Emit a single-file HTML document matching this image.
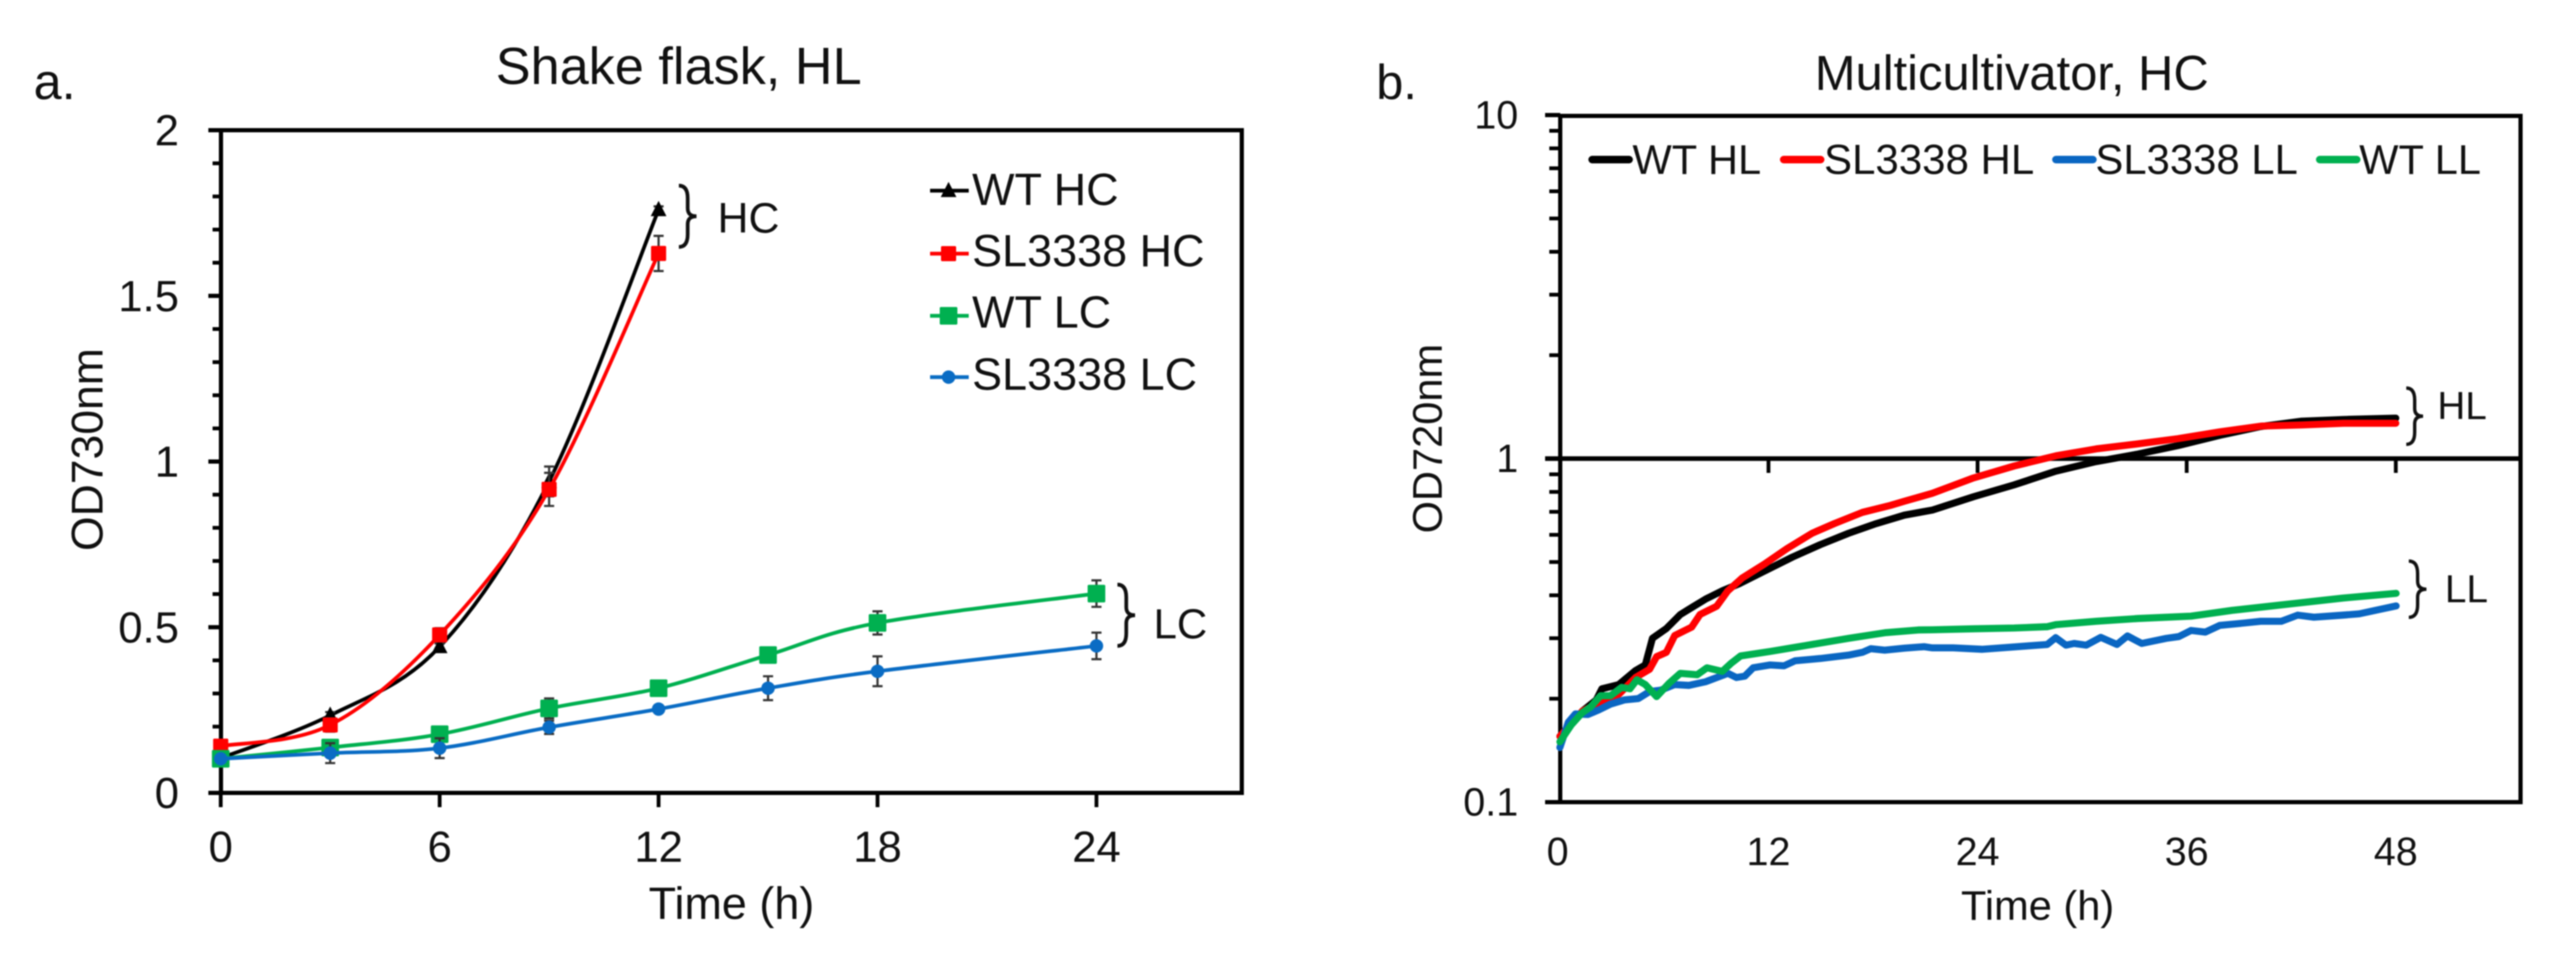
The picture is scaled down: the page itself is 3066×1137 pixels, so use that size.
<!DOCTYPE html>
<html lang="en">
<head>
<meta charset="utf-8">
<title>Growth curves: shake flask and multicultivator</title>
<style>
  html, body { margin: 0; padding: 0; background: #fff; }
  body { width: 3066px; height: 1137px; overflow: hidden; }
  svg { display: block; filter: blur(0.9px); }
  text { font-family: "Liberation Sans", Arial, sans-serif; fill: #111; }
</style>
</head>
<body>
<svg id="figure" xmlns="http://www.w3.org/2000/svg" width="3066" height="1137" viewBox="0 0 3066 1137">
  <rect x="0" y="0" width="3066" height="1137" fill="#fff"/>

  <g id="panel-a">
    <text x="40" y="118" font-size="60">a.</text>
    <text x="590" y="100" font-size="62.2">Shake flask, HL</text>
    <rect x="263" y="155" width="1215" height="789" fill="none" stroke="#000" stroke-width="5"/>
    <text x="122" y="656" font-size="53" transform="rotate(-90 122 656)">OD730nm</text>
    <text x="772" y="1094" font-size="53.5">Time (h)</text>
    <text x="854" y="277" font-size="51">HC</text>
    <text x="1373" y="760" font-size="50">LC</text>
    <text x="1157" y="244" font-size="53.5">WT HC</text>
    <text x="1157" y="317" font-size="53.5">SL3338 HC</text>
    <text x="1157" y="390" font-size="53.5">WT LC</text>
    <text x="1157" y="464" font-size="53.5">SL3338 LC</text>
  </g>

  <g id="panel-b">
    <text x="1638" y="118" font-size="58">b.</text>
    <text x="2160" y="107" font-size="58.2">Multicultivator, HC</text>
    <rect x="1857" y="138" width="1143" height="817" fill="none" stroke="#000" stroke-width="5"/>
    <text x="1716" y="635" font-size="49.5" transform="rotate(-90 1716 635)">OD720nm</text>
    <text x="2334" y="1095" font-size="49.5">Time (h)</text>
    <text x="2901" y="499" font-size="46">HL</text>
    <text x="2910" y="717" font-size="46">LL</text>
    <text x="1943" y="207" font-size="49.5">WT HL</text>
    <text x="2171" y="207" font-size="50">SL3338 HL</text>
    <text x="2494" y="207" font-size="49.8">SL3338 LL</text>
    <text x="2808" y="207" font-size="49.5">WT LL</text>
  </g>
</svg>

<script>
// ---------- Panel a: data ----------
const aHoursHC = [0, 3, 6, 9, 12];
const aHoursLC = [0, 3, 6, 9, 12, 15, 18, 24];
const aWtHC = [0.105, 0.234, 0.441, 0.94, 1.76];
const aSlHC = [0.141, 0.205, 0.477, 0.916, 1.628];
const aWtLC = [0.103, 0.137, 0.177, 0.255, 0.316, 0.416, 0.513, 0.6015];
const aSlLC = [0.103, 0.12, 0.135, 0.198, 0.253, 0.316, 0.367, 0.4436];
const aWtHCErr = [0.005, 0.01, 0.01, 0.045, 0.01];
const aSlHCErr = [0.005, 0.02, 0.02, 0.05, 0.053];
const aWtLCErr = [0.01, 0.01, 0.02, 0.03, 0.01, 0.015, 0.035, 0.04];
const aSlLCErr = [0.01, 0.03, 0.03, 0.02, 0.01, 0.036, 0.045, 0.04];
const aYMajorTicks = [0, 0.5, 1, 1.5, 2];
const aYMajorLabels = ['0', '0.5', '1', '1.5', '2'];
const aYMinorTicks = [0.1, 0.2, 0.3, 0.4, 0.6, 0.7, 0.8, 0.9, 1.1, 1.2, 1.3, 1.4, 1.6, 1.7, 1.8, 1.9];
const aXTicks = [0, 6, 12, 18, 24];
const aXLabels = ['0', '6', '12', '18', '24'];

// ---------- Panel b: data ----------
const bHoursWtHL = [0.03, 1.32, 2.12, 2.44, 3.41, 4.37, 4.93, 5.34, 6.14, 6.94, 7.59, 8.39, 9.35, 10.32, 11.76, 13.37, 14.98, 16.59, 18.19, 19.8, 21.41, 23.77, 26.1, 28.5, 30.8, 33.2, 35.5, 37.9, 40.25, 42.6, 45, 48];
const bWtHL = [0.1554, 0.184, 0.1984, 0.2138, 0.2199, 0.2415, 0.2508, 0.2998, 0.3201, 0.3516, 0.3684, 0.3899, 0.4124, 0.4322, 0.4704, 0.5166, 0.562, 0.6061, 0.647, 0.6846, 0.7085, 0.7745, 0.8388, 0.9195, 0.98, 1.031, 1.091, 1.169, 1.24, 1.285, 1.3, 1.312];
const bHoursSlHL = [0.03, 1.32, 2.12, 2.44, 3.41, 4.37, 5.18, 5.58, 6.14, 6.62, 7.59, 8.07, 9.03, 9.67, 10.48, 11.76, 13.05, 14.5, 15.78, 17.39, 19, 19.8, 21.4, 23.77, 26.1, 28.5, 30.8, 33.2, 35.5, 37.9, 40.25, 42.6, 45, 48];
const bSlHL = [0.1554, 0.184, 0.1925, 0.1965, 0.2059, 0.2305, 0.2438, 0.2652, 0.2729, 0.3055, 0.3232, 0.3516, 0.3719, 0.4124, 0.4487, 0.4928, 0.5466, 0.6061, 0.647, 0.6975, 0.7309, 0.7516, 0.7925, 0.8786, 0.9517, 1.019, 1.067, 1.104, 1.143, 1.196, 1.243, 1.253, 1.267, 1.267];
const bHoursSlLL = [0.03, 0.51, 0.92, 1.64, 2.28, 2.93, 3.73, 4.53, 5.18, 5.82, 6.62, 7.43, 8.39, 9.03, 9.67, 10.16, 10.64, 11.12, 12.09, 12.89, 13.53, 14.98, 16.59, 17.39, 17.87, 18.67, 19.8, 20.93, 21.41, 22.6, 24.24, 26.12, 28, 28.48, 29.07, 29.54, 30.24, 31.07, 32, 32.6, 33.42, 34.83, 35.54, 36.25, 37.07, 37.9, 39.3, 40.25, 41.43, 42.37, 43.3, 44.96, 45.9, 48.02];
const bSlLL = [0.1442, 0.1707, 0.1806, 0.1799, 0.1858, 0.1929, 0.1984, 0.2002, 0.2099, 0.2118, 0.2199, 0.2187, 0.2241, 0.2305, 0.2371, 0.2305, 0.2327, 0.2461, 0.2508, 0.2494, 0.258, 0.2619, 0.2679, 0.2729, 0.2797, 0.277, 0.2807, 0.2834, 0.2812, 0.2812, 0.2786, 0.2831, 0.2877, 0.3011, 0.2864, 0.2897, 0.2864, 0.3018, 0.2877, 0.3046, 0.2897, 0.2998, 0.3032, 0.316, 0.3125, 0.3269, 0.3322, 0.3361, 0.3361, 0.3502, 0.3454, 0.3502, 0.3533, 0.3725];
const bHoursWtLL = [0.03, 0.67, 1.32, 1.8, 2.36, 2.93, 3.57, 4.05, 4.45, 4.93, 5.58, 6.3, 6.94, 7.91, 8.47, 9.35, 9.84, 10.4, 12.09, 14.18, 16.59, 18.67, 20.6, 21.4, 23.77, 26.1, 28, 28.48, 30.8, 33.2, 36.25, 38.6, 41.43, 44.96, 48.02];
const bWtLL = [0.1498, 0.1675, 0.1823, 0.1893, 0.204, 0.204, 0.2158, 0.2138, 0.2271, 0.2199, 0.2029, 0.222, 0.2371, 0.2349, 0.2461, 0.2402, 0.2532, 0.2664, 0.2745, 0.286, 0.2998, 0.3112, 0.3171, 0.3175, 0.3196, 0.3212, 0.3241, 0.3285, 0.3361, 0.3424, 0.3479, 0.3616, 0.375, 0.3927, 0.4052];
const bYMajorTicks = [10, 1, 0.1];
const bYMajorLabels = ['10', '1', '0.1'];
const bYMinorTicks = [9, 8, 7, 6, 5, 4, 3, 2, 0.9, 0.8, 0.7, 0.6, 0.5, 0.4, 0.3, 0.2];
const bXTicks = [12, 24, 36, 48];
const bXLabelValues = [0, 12, 24, 36, 48];
const bXLabels = ['0', '12', '24', '36', '48'];

// ---------- Axis functions ----------
function xA(t) { return 262.7 + t * 43.43; }
function yA(v) { return 944 - v * 394.5; }
function xB(t) { return 1856 + t * 20.74; }
function yB(v) { return 546 - Math.log10(v) * 409; }

const NS = 'http://www.w3.org/2000/svg';
const panelA = document.getElementById('panel-a');
const panelB = document.getElementById('panel-b');

function add(parent, tag, attrs, content) {
  const node = document.createElementNS(NS, tag);
  for (const k in attrs) node.setAttribute(k, attrs[k]);
  if (content !== undefined) node.textContent = content;
  parent.appendChild(node);
  return node;
}

function smoothPath(xs, ys) {
  let d = 'M' + xs[0] + ' ' + ys[0];
  for (let i = 0; i < xs.length - 1; i++) {
    const p0 = Math.max(i - 1, 0), p3 = Math.min(i + 2, xs.length - 1);
    const c1x = xs[i] + (xs[i + 1] - xs[p0]) / 6, c1y = ys[i] + (ys[i + 1] - ys[p0]) / 6;
    const c2x = xs[i + 1] - (xs[p3] - xs[i]) / 6, c2y = ys[i + 1] - (ys[p3] - ys[i]) / 6;
    d += ' C' + c1x + ' ' + c1y + ' ' + c2x + ' ' + c2y + ' ' + xs[i + 1] + ' ' + ys[i + 1];
  }
  return d;
}

function bracePath(x, top, bottom, w) {
  const mid = (top + bottom) / 2, sx = x + w * 0.5, c = w * 0.45;
  return 'M' + x + ' ' + top + ' Q' + sx + ' ' + top + ' ' + sx + ' ' + (top + c * 1.6) +
    ' L' + sx + ' ' + (mid - c) + ' Q' + sx + ' ' + mid + ' ' + (x + w) + ' ' + mid +
    ' Q' + sx + ' ' + mid + ' ' + sx + ' ' + (mid + c) +
    ' L' + sx + ' ' + (bottom - c * 1.6) + ' Q' + sx + ' ' + bottom + ' ' + x + ' ' + bottom;
}

function marker(parent, kind, cx, cy, color, size) {
  if (kind === 'triangle') {
    return add(parent, 'polygon', { points: cx + ',' + (cy - size * 0.62) + ' ' + (cx + size * 0.55) + ',' + (cy + size * 0.45) + ' ' + (cx - size * 0.55) + ',' + (cy + size * 0.45), fill: color });
  }
  if (kind === 'circle') {
    return add(parent, 'circle', { cx: cx, cy: cy, r: size / 2, fill: color });
  }
  return add(parent, 'rect', { x: cx - size / 2, y: cy - size / 2, width: size, height: size, rx: 1.5, fill: color });
}

// ---------- Panel a: axes ----------
aYMajorTicks.forEach(function (v, i) {
  const tick = add(panelA, 'line', { x1: 248, x2: 263, y1: yA(v), y2: yA(v), stroke: '#000', 'stroke-width': 5 });
  
  
  const label = add(panelA, 'text', { x: 213, y: yA(v) + 18, 'font-size': 52, 'text-anchor': 'end' }, aYMajorLabels[i]);
  
  
});
aYMinorTicks.forEach(function (v) {
  const tick = add(panelA, 'line', { x1: 253, x2: 263, y1: yA(v), y2: yA(v), stroke: '#000', 'stroke-width': 4.5 });
  
  
});
aXTicks.forEach(function (t, i) {
  const tick = add(panelA, 'line', { x1: xA(t), x2: xA(t), y1: 944, y2: 961, stroke: '#000', 'stroke-width': 4.5 });
  
  
  const label = add(panelA, 'text', { x: xA(t), y: 1026, 'font-size': 52, 'text-anchor': 'middle' }, aXLabels[i]);
  
  
});

// ---------- Panel a: series ----------
function drawSeriesA(hours, values, errors, color, kind, size, seriesName) {
  const group = add(panelA, 'g', {});
  
  
  const xs = hours.map(xA), ys = values.map(yA);
  const line = add(group, 'path', { d: smoothPath(xs, ys), fill: 'none', stroke: color, 'stroke-width': 4.4 });
  
  
  hours.forEach(function (t, i) {
    const x = xA(t), hi = yA(values[i] + errors[i]), lo = yA(values[i] - errors[i]);
    const err = add(group, 'path', { d: 'M' + x + ' ' + hi + ' V' + lo + ' M' + (x - 6) + ' ' + hi + ' H' + (x + 6) + ' M' + (x - 6) + ' ' + lo + ' H' + (x + 6), fill: 'none', stroke: '#333', 'stroke-width': 2.6 });
    
    
  });
  hours.forEach(function (t, i) {
    const m = marker(group, kind, xA(t), yA(values[i]), color, size);
    
    
  });
}
drawSeriesA(aHoursHC, aWtHC, aWtHCErr, '#000000', 'triangle', 17, 'series-wt-hc');
drawSeriesA(aHoursHC, aSlHC, aSlHCErr, '#ff0000', 'square', 18, 'series-sl3338-hc');
drawSeriesA(aHoursLC, aWtLC, aWtLCErr, '#00b050', 'square', 21, 'series-wt-lc');
drawSeriesA(aHoursLC, aSlLC, aSlLCErr, '#0a6cc4', 'circle', 16, 'series-sl3338-lc');

// ---------- Panel a: legend keys and braces ----------
const legendAColors = ['#000000', '#ff0000', '#00b050', '#0a6cc4'];
const legendAKinds = ['triangle', 'square', 'square', 'circle'];
const legendASizes = [17, 18, 21, 16];
const legendARows = [227, 302, 376, 449];
legendARows.forEach(function (rowY, i) {
  const key = add(panelA, 'line', { x1: 1107, x2: 1153, y1: rowY, y2: rowY, stroke: legendAColors[i], 'stroke-width': 4.4 });
  
  
  const m = marker(panelA, legendAKinds[i], 1129, rowY, legendAColors[i], legendASizes[i]);
  
  
});
const braceHC = add(panelA, 'path', { d: bracePath(808, 221, 294, 21), fill: 'none', stroke: '#111', 'stroke-width': 4.4 });


const braceLC = add(panelA, 'path', { d: bracePath(1330, 696, 769, 21), fill: 'none', stroke: '#111', 'stroke-width': 4.4 });



// ---------- Panel b: axes ----------
const bCrossLine = add(panelB, 'line', { x1: 1839, x2: 3000, y1: yB(1), y2: yB(1), stroke: '#000', 'stroke-width': 5.5 });


bYMajorTicks.forEach(function (v, i) {
  const tick = add(panelB, 'line', { x1: 1839, x2: 1857, y1: yB(v), y2: yB(v), stroke: '#000', 'stroke-width': 5 });
  
  
  const label = add(panelB, 'text', { x: 1807, y: yB(v) + 16, 'font-size': 47, 'text-anchor': 'end' }, bYMajorLabels[i]);
  
  
});
bYMinorTicks.forEach(function (v) {
  const tick = add(panelB, 'line', { x1: 1844, x2: 1857, y1: yB(v), y2: yB(v), stroke: '#000', 'stroke-width': 4.5 });
  
  
});
bXTicks.forEach(function (t) {
  const tick = add(panelB, 'line', { x1: xB(t), x2: xB(t), y1: yB(1), y2: yB(1) + 17, stroke: '#000', 'stroke-width': 4.5 });
  
  
});
bXLabelValues.forEach(function (t, i) {
  const label = add(panelB, 'text', { x: xB(t) - (t === 0 ? 2 : 0), y: 1030, 'font-size': 47, 'text-anchor': 'middle' }, bXLabels[i]);
  
  
});

// ---------- Panel b: series ----------
function drawSeriesB(hours, values, color, seriesName) {
  const pts = hours.map(function (t, i) { return xB(t) + ',' + yB(values[i]); }).join(' ');
  const line = add(panelB, 'polyline', { points: pts, fill: 'none', stroke: color, 'stroke-width': 8.4, 'stroke-linejoin': 'round', 'stroke-linecap': 'round' });
  
  
}
drawSeriesB(bHoursWtHL, bWtHL, '#000000', 'series-wt-hl');
drawSeriesB(bHoursSlHL, bSlHL, '#ff0000', 'series-sl3338-hl');
drawSeriesB(bHoursSlLL, bSlLL, '#0a66c2', 'series-sl3338-ll');
drawSeriesB(bHoursWtLL, bWtLL, '#00b050', 'series-wt-ll');

// ---------- Panel b: legend keys and braces ----------
const legendBColors = ['#000000', '#ff0000', '#0a66c2', '#00b050'];
const legendBStarts = [1895, 2123, 2447, 2761];
legendBStarts.forEach(function (startX, i) {
  const key = add(panelB, 'line', { x1: startX, x2: startX + 44, y1: 190, y2: 190, stroke: legendBColors[i], 'stroke-width': 9, 'stroke-linecap': 'round' });
  
  
});
const braceHL = add(panelB, 'path', { d: bracePath(2864, 462, 529, 20), fill: 'none', stroke: '#111', 'stroke-width': 4 });


const braceLL = add(panelB, 'path', { d: bracePath(2867, 668, 735, 21), fill: 'none', stroke: '#111', 'stroke-width': 4 });


</script>
</body>
</html>
